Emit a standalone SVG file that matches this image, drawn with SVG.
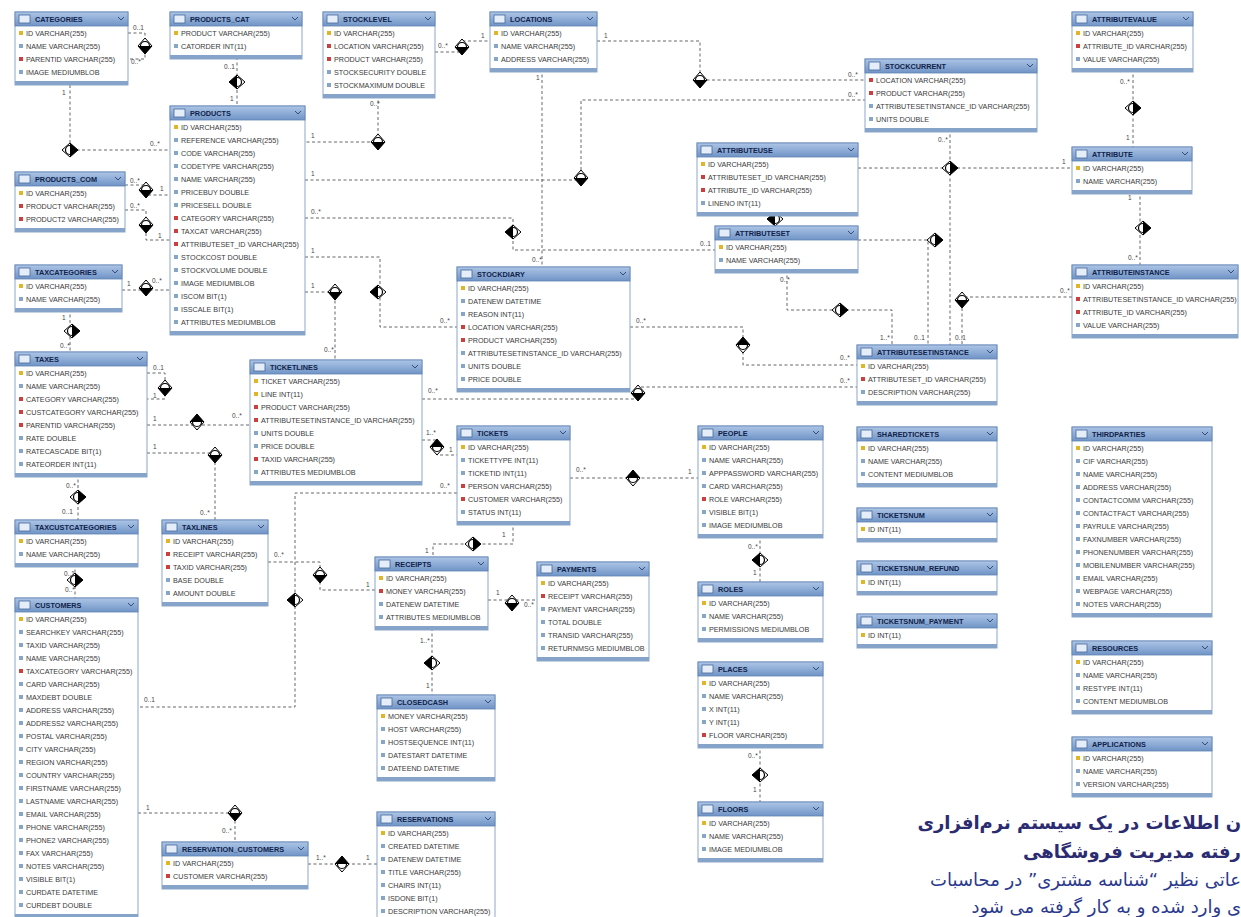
<svg xmlns="http://www.w3.org/2000/svg" xmlns:xlink="http://www.w3.org/1999/xlink" width="1241" height="917" viewBox="0 0 1241 917">
<defs>
<linearGradient id="hg" x1="0" y1="0" x2="0" y2="1"><stop offset="0" stop-color="#adc5e6"/><stop offset="1" stop-color="#7094c6"/></linearGradient>
<rect id="pk" x="4" width="4" height="4" fill="#e2b526"/>
<rect id="fk" x="4" width="4" height="4" fill="#cc3f3f"/>
<rect id="cl" x="4" width="4" height="4" fill="#86a6c8"/>
<g id="rel"><path d="M0,-8 L7,0 L0,8 L-7,0Z" fill="#fff" stroke="#000" stroke-width="1"/><path d="M-7,0 L7,0 L0,8Z" fill="#000"/><circle r="4.5" fill="none" stroke="#000" stroke-width="1.2"/></g>
</defs>
<style>
.bd{fill:#fff;stroke:#8ea7c9;stroke-width:1}
.hd{fill:url(#hg);stroke:#5f82b3;stroke-width:0.8}
.st{fill:#86a3c9}
.ic{fill:#e4edf8;stroke:#46699c;stroke-width:0.8}
.cv{fill:none;stroke:#2a4070;stroke-width:0.9}
.h{font-family:"Liberation Sans",Arial,sans-serif;font-size:7.3px;font-weight:bold;fill:#10234a}
.r{font-family:"Liberation Sans",Arial,sans-serif;font-size:7.2px;fill:#3a3a3a}
.c{fill:none;stroke:#555;stroke-width:0.9;stroke-dasharray:3 2.5}
.l{font-family:"Liberation Sans",Arial,sans-serif;font-size:6.5px;fill:#444}
.fa1{font-family:"DejaVu Sans",sans-serif;font-size:18px;font-weight:bold;fill:#2b2b72}
.fa2{font-family:"DejaVu Sans",sans-serif;font-size:18px;fill:#2b3a8e}
</style>
<rect width="1241" height="917" fill="#fff"/>

<g id="connectors">
<path class="c" d="M128,33 H145 V59 H128"/>
<path class="c" d="M70,85 V150 H170"/>
<path class="c" d="M237,57 V106"/>
<path class="c" d="M435,52 H462 V41 H490"/>
<path class="c" d="M378,95 V142 H305"/>
<path class="c" d="M597,41 H700 V80 H865"/>
<path class="c" d="M305,180 H581 V100 H865"/>
<path class="c" d="M542,69 V267"/>
<path class="c" d="M305,218 H513 V250 H715"/>
<path class="c" d="M305,257 H380 V327 H457"/>
<path class="c" d="M305,292 H335 V360"/>
<path class="c" d="M125,185 H146 V195 H170"/>
<path class="c" d="M125,210 H146 V240 H170"/>
<path class="c" d="M122,290 H170"/>
<path class="c" d="M70,309 V352"/>
<path class="c" d="M147,373 H165 V399 H147"/>
<path class="c" d="M147,425 H250"/>
<path class="c" d="M147,453 H215 V520"/>
<path class="c" d="M78,474 V520"/>
<path class="c" d="M75,564 V598"/>
<path class="c" d="M422,440 H437 V455 H457"/>
<path class="c" d="M422,399 H638 V387 H857"/>
<path class="c" d="M630,327 H743 V365 H857"/>
<path class="c" d="M570,478 H698"/>
<path class="c" d="M513,522 V544 H433 V557"/>
<path class="c" d="M457,493 H295 V707 H138"/>
<path class="c" d="M268,562 H320 V590 H375"/>
<path class="c" d="M488,600 H537"/>
<path class="c" d="M432,628 V695"/>
<path class="c" d="M138,813 H235 V842"/>
<path class="c" d="M308,864 H377"/>
<path class="c" d="M760,535 V582"/>
<path class="c" d="M760,745 V802"/>
<path class="c" d="M1133,69 V147"/>
<path class="c" d="M858,168 H1072"/>
<path class="c" d="M1140,191 V265"/>
<path class="c" d="M775,213 V226"/>
<path class="c" d="M950,129 V345"/>
<path class="c" d="M858,240 H928 V345"/>
<path class="c" d="M787,270 V310 H892 V345"/>
<path class="c" d="M1072,297 H962 V345"/>
<use href="#rel" transform="translate(145,46)"/>
<use href="#rel" transform="translate(70,150) rotate(-90)"/>
<use href="#rel" transform="translate(237,82) rotate(90)"/>
<use href="#rel" transform="translate(462,47)"/>
<use href="#rel" transform="translate(378,142)"/>
<use href="#rel" transform="translate(700,80)"/>
<use href="#rel" transform="translate(581,178)"/>
<use href="#rel" transform="translate(513,232) rotate(90)"/>
<use href="#rel" transform="translate(378,292) rotate(90)"/>
<use href="#rel" transform="translate(335,292)"/>
<use href="#rel" transform="translate(146,190)"/>
<use href="#rel" transform="translate(146,225)"/>
<use href="#rel" transform="translate(146,288)"/>
<use href="#rel" transform="translate(72,331) rotate(-90)"/>
<use href="#rel" transform="translate(165,388)"/>
<use href="#rel" transform="translate(197,422) rotate(180)"/>
<use href="#rel" transform="translate(215,455)"/>
<use href="#rel" transform="translate(78,497) rotate(-90)"/>
<use href="#rel" transform="translate(75,580) rotate(-90)"/>
<use href="#rel" transform="translate(437,447) rotate(180)"/>
<use href="#rel" transform="translate(638,393)"/>
<use href="#rel" transform="translate(743,345) rotate(180)"/>
<use href="#rel" transform="translate(633,478) rotate(180)"/>
<use href="#rel" transform="translate(473,544) rotate(-90)"/>
<use href="#rel" transform="translate(295,600) rotate(90)"/>
<use href="#rel" transform="translate(320,575)"/>
<use href="#rel" transform="translate(512,603)"/>
<use href="#rel" transform="translate(432,663) rotate(90)"/>
<use href="#rel" transform="translate(235,813)"/>
<use href="#rel" transform="translate(342,864) rotate(180)"/>
<use href="#rel" transform="translate(760,560) rotate(90)"/>
<use href="#rel" transform="translate(760,775) rotate(90)"/>
<use href="#rel" transform="translate(1133,108) rotate(-90)"/>
<use href="#rel" transform="translate(950,168) rotate(-90)"/>
<use href="#rel" transform="translate(1143,228) rotate(-90)"/>
<use href="#rel" transform="translate(775,219) rotate(90)"/>
<use href="#rel" transform="translate(935,240) rotate(-90)"/>
<use href="#rel" transform="translate(840,310) rotate(-90)"/>
<use href="#rel" transform="translate(962,300)"/>
<text class="l" x="133" y="30">0..1</text><text class="l" x="131" y="64">0..*</text>
<text class="l" x="62" y="95">1</text><text class="l" x="150" y="146">0..*</text>
<text class="l" x="224" y="69">0..1</text><text class="l" x="230" y="101">1</text>
<text class="l" x="438" y="48">0..*</text><text class="l" x="481" y="38">1</text>
<text class="l" x="370" y="106">0..*</text><text class="l" x="311" y="138">1</text>
<text class="l" x="604" y="38">1</text><text class="l" x="848" y="77">0..*</text>
<text class="l" x="311" y="176">1</text><text class="l" x="848" y="97">0..*</text>
<text class="l" x="536" y="80">1</text><text class="l" x="532" y="262">0..*</text>
<text class="l" x="311" y="214">0..*</text><text class="l" x="700" y="246">0..1</text>
<text class="l" x="311" y="253">1</text><text class="l" x="440" y="323">0..*</text>
<text class="l" x="311" y="288">1</text><text class="l" x="324" y="352">0..*</text>
<text class="l" x="130" y="183">0..*</text><text class="l" x="160" y="191">1</text>
<text class="l" x="130" y="208">0..*</text><text class="l" x="158" y="238">1</text>
<text class="l" x="127" y="286">1</text><text class="l" x="152" y="283">0..*</text>
<text class="l" x="62" y="320">1</text><text class="l" x="60" y="348">0..*</text>
<text class="l" x="153" y="370">0..1</text><text class="l" x="153" y="398">1</text>
<text class="l" x="153" y="421">1</text><text class="l" x="232" y="418">0..*</text>
<text class="l" x="153" y="449">1</text><text class="l" x="200" y="515">0..*</text>
<text class="l" x="66" y="488">0..*</text><text class="l" x="62" y="514">0..1</text>
<text class="l" x="64" y="576">0..1</text><text class="l" x="65" y="592">0..*</text>
<text class="l" x="426" y="435">1..*</text><text class="l" x="449" y="452">1</text>
<text class="l" x="428" y="393">0..*</text><text class="l" x="840" y="383">0..*</text>
<text class="l" x="636" y="323">0..*</text><text class="l" x="840" y="360">0..*</text>
<text class="l" x="576" y="472">0..*</text><text class="l" x="688" y="474">1</text>
<text class="l" x="502" y="537">1</text><text class="l" x="425" y="553">1</text>
<text class="l" x="440" y="488">0..*</text><text class="l" x="144" y="702">0..1</text>
<text class="l" x="274" y="557">0..*</text><text class="l" x="366" y="587">1</text>
<text class="l" x="496" y="595">1</text><text class="l" x="524" y="607">0..*</text>
<text class="l" x="420" y="643">1..*</text><text class="l" x="426" y="688">1</text>
<text class="l" x="146" y="810">1</text><text class="l" x="222" y="833">0..*</text>
<text class="l" x="316" y="860">1..*</text><text class="l" x="366" y="860">1</text>
<text class="l" x="748" y="549">0..*</text><text class="l" x="753" y="575">1</text>
<text class="l" x="748" y="758">0..*</text><text class="l" x="753" y="792">1</text>
<text class="l" x="1120" y="84">0..*</text><text class="l" x="1126" y="140">1</text>
<text class="l" x="843" y="164">0..*</text><text class="l" x="1062" y="164">1</text>
<text class="l" x="1128" y="200">1</text><text class="l" x="1128" y="260">0..*</text>
<text class="l" x="938" y="142">0..*</text><text class="l" x="880" y="340">1..*</text>
<text class="l" x="914" y="340">0..1</text><text class="l" x="955" y="340">0..1</text>
<text class="l" x="780" y="282">0..*</text><text class="l" x="1060" y="293">0..*</text>
</g>

<g id="t-categories" transform="translate(15,12)">
<rect class="bd" width="113" height="73"/><rect class="st" y="69" width="113" height="4"/><rect class="hd" width="113" height="14"/><rect class="ic" x="4" y="3" width="11" height="8"/><path class="cv" d="M103,5 l3,3 l3,-3"/>
<text class="h" x="20" y="10">CATEGORIES</text>
<use href="#pk" y="19"/><use href="#cl" y="32"/><use href="#fk" y="45"/><use href="#cl" y="58"/>
<text class="r"><tspan x="11" y="23.5">ID VARCHAR(255)</tspan><tspan x="11" dy="13">NAME VARCHAR(255)</tspan><tspan x="11" dy="13">PARENTID VARCHAR(255)</tspan><tspan x="11" dy="13">IMAGE MEDIUMBLOB</tspan></text>
</g>

<g id="t-products_cat" transform="translate(170,12)">
<rect class="bd" width="132" height="47"/><rect class="st" y="43" width="132" height="4"/><rect class="hd" width="132" height="14"/><rect class="ic" x="4" y="3" width="11" height="8"/><path class="cv" d="M122,5 l3,3 l3,-3"/>
<text class="h" x="20" y="10">PRODUCTS_CAT</text>
<use href="#pk" y="19"/><use href="#cl" y="32"/>
<text class="r"><tspan x="11" y="23.5">PRODUCT VARCHAR(255)</tspan><tspan x="11" dy="13">CATORDER INT(11)</tspan></text>
</g>

<g id="t-stocklevel" transform="translate(323,12)">
<rect class="bd" width="112" height="86"/><rect class="st" y="82" width="112" height="4"/><rect class="hd" width="112" height="14"/><rect class="ic" x="4" y="3" width="11" height="8"/><path class="cv" d="M102,5 l3,3 l3,-3"/>
<text class="h" x="20" y="10">STOCKLEVEL</text>
<use href="#pk" y="19"/><use href="#fk" y="32"/><use href="#fk" y="45"/><use href="#cl" y="58"/><use href="#cl" y="71"/>
<text class="r"><tspan x="11" y="23.5">ID VARCHAR(255)</tspan><tspan x="11" dy="13">LOCATION VARCHAR(255)</tspan><tspan x="11" dy="13">PRODUCT VARCHAR(255)</tspan><tspan x="11" dy="13">STOCKSECURITY DOUBLE</tspan><tspan x="11" dy="13">STOCKMAXIMUM DOUBLE</tspan></text>
</g>

<g id="t-locations" transform="translate(490,12)">
<rect class="bd" width="107" height="60"/><rect class="st" y="56" width="107" height="4"/><rect class="hd" width="107" height="14"/><rect class="ic" x="4" y="3" width="11" height="8"/><path class="cv" d="M97,5 l3,3 l3,-3"/>
<text class="h" x="20" y="10">LOCATIONS</text>
<use href="#pk" y="19"/><use href="#cl" y="32"/><use href="#cl" y="45"/>
<text class="r"><tspan x="11" y="23.5">ID VARCHAR(255)</tspan><tspan x="11" dy="13">NAME VARCHAR(255)</tspan><tspan x="11" dy="13">ADDRESS VARCHAR(255)</tspan></text>
</g>

<g id="t-attributevalue" transform="translate(1072,12)">
<rect class="bd" width="121" height="60"/><rect class="st" y="56" width="121" height="4"/><rect class="hd" width="121" height="14"/><rect class="ic" x="4" y="3" width="11" height="8"/><path class="cv" d="M111,5 l3,3 l3,-3"/>
<text class="h" x="20" y="10">ATTRIBUTEVALUE</text>
<use href="#pk" y="19"/><use href="#fk" y="32"/><use href="#cl" y="45"/>
<text class="r"><tspan x="11" y="23.5">ID VARCHAR(255)</tspan><tspan x="11" dy="13">ATTRIBUTE_ID VARCHAR(255)</tspan><tspan x="11" dy="13">VALUE VARCHAR(255)</tspan></text>
</g>

<g id="t-stockcurrent" transform="translate(865,59)">
<rect class="bd" width="172" height="73"/><rect class="st" y="69" width="172" height="4"/><rect class="hd" width="172" height="14"/><rect class="ic" x="4" y="3" width="11" height="8"/><path class="cv" d="M162,5 l3,3 l3,-3"/>
<text class="h" x="20" y="10">STOCKCURRENT</text>
<use href="#fk" y="19"/><use href="#fk" y="32"/><use href="#cl" y="45"/><use href="#cl" y="58"/>
<text class="r"><tspan x="11" y="23.5">LOCATION VARCHAR(255)</tspan><tspan x="11" dy="13">PRODUCT VARCHAR(255)</tspan><tspan x="11" dy="13">ATTRIBUTESETINSTANCE_ID VARCHAR(255)</tspan><tspan x="11" dy="13">UNITS DOUBLE</tspan></text>
</g>

<g id="t-products" transform="translate(170,106)">
<rect class="bd" width="135" height="229"/><rect class="st" y="225" width="135" height="4"/><rect class="hd" width="135" height="14"/><rect class="ic" x="4" y="3" width="11" height="8"/><path class="cv" d="M125,5 l3,3 l3,-3"/>
<text class="h" x="20" y="10">PRODUCTS</text>
<use href="#pk" y="19"/><use href="#cl" y="32"/><use href="#cl" y="45"/><use href="#cl" y="58"/><use href="#cl" y="71"/><use href="#cl" y="84"/><use href="#cl" y="97"/><use href="#fk" y="110"/><use href="#fk" y="123"/><use href="#fk" y="136"/><use href="#cl" y="149"/><use href="#cl" y="162"/><use href="#cl" y="175"/><use href="#cl" y="188"/><use href="#cl" y="201"/><use href="#cl" y="214"/>
<text class="r"><tspan x="11" y="23.5">ID VARCHAR(255)</tspan><tspan x="11" dy="13">REFERENCE VARCHAR(255)</tspan><tspan x="11" dy="13">CODE VARCHAR(255)</tspan><tspan x="11" dy="13">CODETYPE VARCHAR(255)</tspan><tspan x="11" dy="13">NAME VARCHAR(255)</tspan><tspan x="11" dy="13">PRICEBUY DOUBLE</tspan><tspan x="11" dy="13">PRICESELL DOUBLE</tspan><tspan x="11" dy="13">CATEGORY VARCHAR(255)</tspan><tspan x="11" dy="13">TAXCAT VARCHAR(255)</tspan><tspan x="11" dy="13">ATTRIBUTESET_ID VARCHAR(255)</tspan><tspan x="11" dy="13">STOCKCOST DOUBLE</tspan><tspan x="11" dy="13">STOCKVOLUME DOUBLE</tspan><tspan x="11" dy="13">IMAGE MEDIUMBLOB</tspan><tspan x="11" dy="13">ISCOM BIT(1)</tspan><tspan x="11" dy="13">ISSCALE BIT(1)</tspan><tspan x="11" dy="13">ATTRIBUTES MEDIUMBLOB</tspan></text>
</g>

<g id="t-products_com" transform="translate(15,172)">
<rect class="bd" width="110" height="60"/><rect class="st" y="56" width="110" height="4"/><rect class="hd" width="110" height="14"/><rect class="ic" x="4" y="3" width="11" height="8"/><path class="cv" d="M100,5 l3,3 l3,-3"/>
<text class="h" x="20" y="10">PRODUCTS_COM</text>
<use href="#pk" y="19"/><use href="#fk" y="32"/><use href="#fk" y="45"/>
<text class="r"><tspan x="11" y="23.5">ID VARCHAR(255)</tspan><tspan x="11" dy="13">PRODUCT VARCHAR(255)</tspan><tspan x="11" dy="13">PRODUCT2 VARCHAR(255)</tspan></text>
</g>

<g id="t-attributeuse" transform="translate(697,143)">
<rect class="bd" width="161" height="73"/><rect class="st" y="69" width="161" height="4"/><rect class="hd" width="161" height="14"/><rect class="ic" x="4" y="3" width="11" height="8"/><path class="cv" d="M151,5 l3,3 l3,-3"/>
<text class="h" x="20" y="10">ATTRIBUTEUSE</text>
<use href="#pk" y="19"/><use href="#fk" y="32"/><use href="#fk" y="45"/><use href="#cl" y="58"/>
<text class="r"><tspan x="11" y="23.5">ID VARCHAR(255)</tspan><tspan x="11" dy="13">ATTRIBUTESET_ID VARCHAR(255)</tspan><tspan x="11" dy="13">ATTRIBUTE_ID VARCHAR(255)</tspan><tspan x="11" dy="13">LINENO INT(11)</tspan></text>
</g>

<g id="t-attribute" transform="translate(1072,147)">
<rect class="bd" width="120" height="47"/><rect class="st" y="43" width="120" height="4"/><rect class="hd" width="120" height="14"/><rect class="ic" x="4" y="3" width="11" height="8"/><path class="cv" d="M110,5 l3,3 l3,-3"/>
<text class="h" x="20" y="10">ATTRIBUTE</text>
<use href="#pk" y="19"/><use href="#cl" y="32"/>
<text class="r"><tspan x="11" y="23.5">ID VARCHAR(255)</tspan><tspan x="11" dy="13">NAME VARCHAR(255)</tspan></text>
</g>

<g id="t-attributeset" transform="translate(715,226)">
<rect class="bd" width="143" height="47"/><rect class="st" y="43" width="143" height="4"/><rect class="hd" width="143" height="14"/><rect class="ic" x="4" y="3" width="11" height="8"/><path class="cv" d="M133,5 l3,3 l3,-3"/>
<text class="h" x="20" y="10">ATTRIBUTESET</text>
<use href="#pk" y="19"/><use href="#cl" y="32"/>
<text class="r"><tspan x="11" y="23.5">ID VARCHAR(255)</tspan><tspan x="11" dy="13">NAME VARCHAR(255)</tspan></text>
</g>

<g id="t-taxcategories" transform="translate(15,265)">
<rect class="bd" width="107" height="47"/><rect class="st" y="43" width="107" height="4"/><rect class="hd" width="107" height="14"/><rect class="ic" x="4" y="3" width="11" height="8"/><path class="cv" d="M97,5 l3,3 l3,-3"/>
<text class="h" x="20" y="10">TAXCATEGORIES</text>
<use href="#pk" y="19"/><use href="#cl" y="32"/>
<text class="r"><tspan x="11" y="23.5">ID VARCHAR(255)</tspan><tspan x="11" dy="13">NAME VARCHAR(255)</tspan></text>
</g>

<g id="t-stockdiary" transform="translate(457,267)">
<rect class="bd" width="173" height="125"/><rect class="st" y="121" width="173" height="4"/><rect class="hd" width="173" height="14"/><rect class="ic" x="4" y="3" width="11" height="8"/><path class="cv" d="M163,5 l3,3 l3,-3"/>
<text class="h" x="20" y="10">STOCKDIARY</text>
<use href="#pk" y="19"/><use href="#cl" y="32"/><use href="#cl" y="45"/><use href="#fk" y="58"/><use href="#fk" y="71"/><use href="#cl" y="84"/><use href="#cl" y="97"/><use href="#cl" y="110"/>
<text class="r"><tspan x="11" y="23.5">ID VARCHAR(255)</tspan><tspan x="11" dy="13">DATENEW DATETIME</tspan><tspan x="11" dy="13">REASON INT(11)</tspan><tspan x="11" dy="13">LOCATION VARCHAR(255)</tspan><tspan x="11" dy="13">PRODUCT VARCHAR(255)</tspan><tspan x="11" dy="13">ATTRIBUTESETINSTANCE_ID VARCHAR(255)</tspan><tspan x="11" dy="13">UNITS DOUBLE</tspan><tspan x="11" dy="13">PRICE DOUBLE</tspan></text>
</g>

<g id="t-attributeinstance" transform="translate(1072,265)">
<rect class="bd" width="166" height="73"/><rect class="st" y="69" width="166" height="4"/><rect class="hd" width="166" height="14"/><rect class="ic" x="4" y="3" width="11" height="8"/><path class="cv" d="M156,5 l3,3 l3,-3"/>
<text class="h" x="20" y="10">ATTRIBUTEINSTANCE</text>
<use href="#pk" y="19"/><use href="#fk" y="32"/><use href="#fk" y="45"/><use href="#cl" y="58"/>
<text class="r"><tspan x="11" y="23.5">ID VARCHAR(255)</tspan><tspan x="11" dy="13">ATTRIBUTESETINSTANCE_ID VARCHAR(255)</tspan><tspan x="11" dy="13">ATTRIBUTE_ID VARCHAR(255)</tspan><tspan x="11" dy="13">VALUE VARCHAR(255)</tspan></text>
</g>

<g id="t-attributesetinstance" transform="translate(857,345)">
<rect class="bd" width="140" height="60"/><rect class="st" y="56" width="140" height="4"/><rect class="hd" width="140" height="14"/><rect class="ic" x="4" y="3" width="11" height="8"/><path class="cv" d="M130,5 l3,3 l3,-3"/>
<text class="h" x="20" y="10">ATTRIBUTESETINSTANCE</text>
<use href="#pk" y="19"/><use href="#fk" y="32"/><use href="#cl" y="45"/>
<text class="r"><tspan x="11" y="23.5">ID VARCHAR(255)</tspan><tspan x="11" dy="13">ATTRIBUTESET_ID VARCHAR(255)</tspan><tspan x="11" dy="13">DESCRIPTION VARCHAR(255)</tspan></text>
</g>

<g id="t-taxes" transform="translate(15,352)">
<rect class="bd" width="132" height="125"/><rect class="st" y="121" width="132" height="4"/><rect class="hd" width="132" height="14"/><rect class="ic" x="4" y="3" width="11" height="8"/><path class="cv" d="M122,5 l3,3 l3,-3"/>
<text class="h" x="20" y="10">TAXES</text>
<use href="#pk" y="19"/><use href="#cl" y="32"/><use href="#fk" y="45"/><use href="#fk" y="58"/><use href="#fk" y="71"/><use href="#cl" y="84"/><use href="#cl" y="97"/><use href="#cl" y="110"/>
<text class="r"><tspan x="11" y="23.5">ID VARCHAR(255)</tspan><tspan x="11" dy="13">NAME VARCHAR(255)</tspan><tspan x="11" dy="13">CATEGORY VARCHAR(255)</tspan><tspan x="11" dy="13">CUSTCATEGORY VARCHAR(255)</tspan><tspan x="11" dy="13">PARENTID VARCHAR(255)</tspan><tspan x="11" dy="13">RATE DOUBLE</tspan><tspan x="11" dy="13">RATECASCADE BIT(1)</tspan><tspan x="11" dy="13">RATEORDER INT(11)</tspan></text>
</g>

<g id="t-ticketlines" transform="translate(250,360)">
<rect class="bd" width="172" height="125"/><rect class="st" y="121" width="172" height="4"/><rect class="hd" width="172" height="14"/><rect class="ic" x="4" y="3" width="11" height="8"/><path class="cv" d="M162,5 l3,3 l3,-3"/>
<text class="h" x="20" y="10">TICKETLINES</text>
<use href="#pk" y="19"/><use href="#pk" y="32"/><use href="#fk" y="45"/><use href="#fk" y="58"/><use href="#cl" y="71"/><use href="#cl" y="84"/><use href="#fk" y="97"/><use href="#cl" y="110"/>
<text class="r"><tspan x="11" y="23.5">TICKET VARCHAR(255)</tspan><tspan x="11" dy="13">LINE INT(11)</tspan><tspan x="11" dy="13">PRODUCT VARCHAR(255)</tspan><tspan x="11" dy="13">ATTRIBUTESETINSTANCE_ID VARCHAR(255)</tspan><tspan x="11" dy="13">UNITS DOUBLE</tspan><tspan x="11" dy="13">PRICE DOUBLE</tspan><tspan x="11" dy="13">TAXID VARCHAR(255)</tspan><tspan x="11" dy="13">ATTRIBUTES MEDIUMBLOB</tspan></text>
</g>

<g id="t-tickets" transform="translate(457,426)">
<rect class="bd" width="113" height="99"/><rect class="st" y="95" width="113" height="4"/><rect class="hd" width="113" height="14"/><rect class="ic" x="4" y="3" width="11" height="8"/><path class="cv" d="M103,5 l3,3 l3,-3"/>
<text class="h" x="20" y="10">TICKETS</text>
<use href="#pk" y="19"/><use href="#cl" y="32"/><use href="#cl" y="45"/><use href="#fk" y="58"/><use href="#fk" y="71"/><use href="#cl" y="84"/>
<text class="r"><tspan x="11" y="23.5">ID VARCHAR(255)</tspan><tspan x="11" dy="13">TICKETTYPE INT(11)</tspan><tspan x="11" dy="13">TICKETID INT(11)</tspan><tspan x="11" dy="13">PERSON VARCHAR(255)</tspan><tspan x="11" dy="13">CUSTOMER VARCHAR(255)</tspan><tspan x="11" dy="13">STATUS INT(11)</tspan></text>
</g>

<g id="t-people" transform="translate(698,426)">
<rect class="bd" width="125" height="112"/><rect class="st" y="108" width="125" height="4"/><rect class="hd" width="125" height="14"/><rect class="ic" x="4" y="3" width="11" height="8"/><path class="cv" d="M115,5 l3,3 l3,-3"/>
<text class="h" x="20" y="10">PEOPLE</text>
<use href="#pk" y="19"/><use href="#cl" y="32"/><use href="#cl" y="45"/><use href="#cl" y="58"/><use href="#fk" y="71"/><use href="#cl" y="84"/><use href="#cl" y="97"/>
<text class="r"><tspan x="11" y="23.5">ID VARCHAR(255)</tspan><tspan x="11" dy="13">NAME VARCHAR(255)</tspan><tspan x="11" dy="13">APPPASSWORD VARCHAR(255)</tspan><tspan x="11" dy="13">CARD VARCHAR(255)</tspan><tspan x="11" dy="13">ROLE VARCHAR(255)</tspan><tspan x="11" dy="13">VISIBLE BIT(1)</tspan><tspan x="11" dy="13">IMAGE MEDIUMBLOB</tspan></text>
</g>

<g id="t-sharedtickets" transform="translate(857,427)">
<rect class="bd" width="140" height="60"/><rect class="st" y="56" width="140" height="4"/><rect class="hd" width="140" height="14"/><rect class="ic" x="4" y="3" width="11" height="8"/><path class="cv" d="M130,5 l3,3 l3,-3"/>
<text class="h" x="20" y="10">SHAREDTICKETS</text>
<use href="#pk" y="19"/><use href="#cl" y="32"/><use href="#cl" y="45"/>
<text class="r"><tspan x="11" y="23.5">ID VARCHAR(255)</tspan><tspan x="11" dy="13">NAME VARCHAR(255)</tspan><tspan x="11" dy="13">CONTENT MEDIUMBLOB</tspan></text>
</g>

<g id="t-thirdparties" transform="translate(1072,427)">
<rect class="bd" width="140" height="190"/><rect class="st" y="186" width="140" height="4"/><rect class="hd" width="140" height="14"/><rect class="ic" x="4" y="3" width="11" height="8"/><path class="cv" d="M130,5 l3,3 l3,-3"/>
<text class="h" x="20" y="10">THIRDPARTIES</text>
<use href="#pk" y="19"/><use href="#cl" y="32"/><use href="#cl" y="45"/><use href="#cl" y="58"/><use href="#cl" y="71"/><use href="#cl" y="84"/><use href="#cl" y="97"/><use href="#cl" y="110"/><use href="#cl" y="123"/><use href="#cl" y="136"/><use href="#cl" y="149"/><use href="#cl" y="162"/><use href="#cl" y="175"/>
<text class="r"><tspan x="11" y="23.5">ID VARCHAR(255)</tspan><tspan x="11" dy="13">CIF VARCHAR(255)</tspan><tspan x="11" dy="13">NAME VARCHAR(255)</tspan><tspan x="11" dy="13">ADDRESS VARCHAR(255)</tspan><tspan x="11" dy="13">CONTACTCOMM VARCHAR(255)</tspan><tspan x="11" dy="13">CONTACTFACT VARCHAR(255)</tspan><tspan x="11" dy="13">PAYRULE VARCHAR(255)</tspan><tspan x="11" dy="13">FAXNUMBER VARCHAR(255)</tspan><tspan x="11" dy="13">PHONENUMBER VARCHAR(255)</tspan><tspan x="11" dy="13">MOBILENUMBER VARCHAR(255)</tspan><tspan x="11" dy="13">EMAIL VARCHAR(255)</tspan><tspan x="11" dy="13">WEBPAGE VARCHAR(255)</tspan><tspan x="11" dy="13">NOTES VARCHAR(255)</tspan></text>
</g>

<g id="t-ticketsnum" transform="translate(857,508)">
<rect class="bd" width="140" height="34"/><rect class="st" y="30" width="140" height="4"/><rect class="hd" width="140" height="14"/><rect class="ic" x="4" y="3" width="11" height="8"/><path class="cv" d="M130,5 l3,3 l3,-3"/>
<text class="h" x="20" y="10">TICKETSNUM</text>
<use href="#pk" y="19"/>
<text class="r" x="11" y="23.5">ID INT(11)</text>
</g>

<g id="t-ticketsnum_refund" transform="translate(857,561)">
<rect class="bd" width="140" height="34"/><rect class="st" y="30" width="140" height="4"/><rect class="hd" width="140" height="14"/><rect class="ic" x="4" y="3" width="11" height="8"/><path class="cv" d="M130,5 l3,3 l3,-3"/>
<text class="h" x="20" y="10">TICKETSNUM_REFUND</text>
<use href="#pk" y="19"/>
<text class="r" x="11" y="23.5">ID INT(11)</text>
</g>

<g id="t-ticketsnum_payment" transform="translate(857,614)">
<rect class="bd" width="140" height="34"/><rect class="st" y="30" width="140" height="4"/><rect class="hd" width="140" height="14"/><rect class="ic" x="4" y="3" width="11" height="8"/><path class="cv" d="M130,5 l3,3 l3,-3"/>
<text class="h" x="20" y="10">TICKETSNUM_PAYMENT</text>
<use href="#pk" y="19"/>
<text class="r" x="11" y="23.5">ID INT(11)</text>
</g>

<g id="t-taxcustcategories" transform="translate(15,520)">
<rect class="bd" width="123" height="47"/><rect class="st" y="43" width="123" height="4"/><rect class="hd" width="123" height="14"/><rect class="ic" x="4" y="3" width="11" height="8"/><path class="cv" d="M113,5 l3,3 l3,-3"/>
<text class="h" x="20" y="10">TAXCUSTCATEGORIES</text>
<use href="#pk" y="19"/><use href="#cl" y="32"/>
<text class="r"><tspan x="11" y="23.5">ID VARCHAR(255)</tspan><tspan x="11" dy="13">NAME VARCHAR(255)</tspan></text>
</g>

<g id="t-taxlines" transform="translate(162,520)">
<rect class="bd" width="106" height="86"/><rect class="st" y="82" width="106" height="4"/><rect class="hd" width="106" height="14"/><rect class="ic" x="4" y="3" width="11" height="8"/><path class="cv" d="M96,5 l3,3 l3,-3"/>
<text class="h" x="20" y="10">TAXLINES</text>
<use href="#pk" y="19"/><use href="#fk" y="32"/><use href="#fk" y="45"/><use href="#cl" y="58"/><use href="#cl" y="71"/>
<text class="r"><tspan x="11" y="23.5">ID VARCHAR(255)</tspan><tspan x="11" dy="13">RECEIPT VARCHAR(255)</tspan><tspan x="11" dy="13">TAXID VARCHAR(255)</tspan><tspan x="11" dy="13">BASE DOUBLE</tspan><tspan x="11" dy="13">AMOUNT DOUBLE</tspan></text>
</g>

<g id="t-receipts" transform="translate(375,557)">
<rect class="bd" width="113" height="73"/><rect class="st" y="69" width="113" height="4"/><rect class="hd" width="113" height="14"/><rect class="ic" x="4" y="3" width="11" height="8"/><path class="cv" d="M103,5 l3,3 l3,-3"/>
<text class="h" x="20" y="10">RECEIPTS</text>
<use href="#pk" y="19"/><use href="#fk" y="32"/><use href="#cl" y="45"/><use href="#cl" y="58"/>
<text class="r"><tspan x="11" y="23.5">ID VARCHAR(255)</tspan><tspan x="11" dy="13">MONEY VARCHAR(255)</tspan><tspan x="11" dy="13">DATENEW DATETIME</tspan><tspan x="11" dy="13">ATTRIBUTES MEDIUMBLOB</tspan></text>
</g>

<g id="t-payments" transform="translate(537,562)">
<rect class="bd" width="112" height="99"/><rect class="st" y="95" width="112" height="4"/><rect class="hd" width="112" height="14"/><rect class="ic" x="4" y="3" width="11" height="8"/><path class="cv" d="M102,5 l3,3 l3,-3"/>
<text class="h" x="20" y="10">PAYMENTS</text>
<use href="#pk" y="19"/><use href="#fk" y="32"/><use href="#cl" y="45"/><use href="#cl" y="58"/><use href="#cl" y="71"/><use href="#cl" y="84"/>
<text class="r"><tspan x="11" y="23.5">ID VARCHAR(255)</tspan><tspan x="11" dy="13">RECEIPT VARCHAR(255)</tspan><tspan x="11" dy="13">PAYMENT VARCHAR(255)</tspan><tspan x="11" dy="13">TOTAL DOUBLE</tspan><tspan x="11" dy="13">TRANSID VARCHAR(255)</tspan><tspan x="11" dy="13">RETURNMSG MEDIUMBLOB</tspan></text>
</g>

<g id="t-roles" transform="translate(698,582)">
<rect class="bd" width="125" height="60"/><rect class="st" y="56" width="125" height="4"/><rect class="hd" width="125" height="14"/><rect class="ic" x="4" y="3" width="11" height="8"/><path class="cv" d="M115,5 l3,3 l3,-3"/>
<text class="h" x="20" y="10">ROLES</text>
<use href="#pk" y="19"/><use href="#cl" y="32"/><use href="#cl" y="45"/>
<text class="r"><tspan x="11" y="23.5">ID VARCHAR(255)</tspan><tspan x="11" dy="13">NAME VARCHAR(255)</tspan><tspan x="11" dy="13">PERMISSIONS MEDIUMBLOB</tspan></text>
</g>

<g id="t-customers" transform="translate(15,598)">
<rect class="bd" width="123" height="320"/><rect class="st" y="316" width="123" height="4"/><rect class="hd" width="123" height="14"/><rect class="ic" x="4" y="3" width="11" height="8"/><path class="cv" d="M113,5 l3,3 l3,-3"/>
<text class="h" x="20" y="10">CUSTOMERS</text>
<use href="#pk" y="19"/><use href="#cl" y="32"/><use href="#cl" y="45"/><use href="#cl" y="58"/><use href="#fk" y="71"/><use href="#cl" y="84"/><use href="#cl" y="97"/><use href="#cl" y="110"/><use href="#cl" y="123"/><use href="#cl" y="136"/><use href="#cl" y="149"/><use href="#cl" y="162"/><use href="#cl" y="175"/><use href="#cl" y="188"/><use href="#cl" y="201"/><use href="#cl" y="214"/><use href="#cl" y="227"/><use href="#cl" y="240"/><use href="#cl" y="253"/><use href="#cl" y="266"/><use href="#cl" y="279"/><use href="#cl" y="292"/><use href="#cl" y="305"/>
<text class="r"><tspan x="11" y="23.5">ID VARCHAR(255)</tspan><tspan x="11" dy="13">SEARCHKEY VARCHAR(255)</tspan><tspan x="11" dy="13">TAXID VARCHAR(255)</tspan><tspan x="11" dy="13">NAME VARCHAR(255)</tspan><tspan x="11" dy="13">TAXCATEGORY VARCHAR(255)</tspan><tspan x="11" dy="13">CARD VARCHAR(255)</tspan><tspan x="11" dy="13">MAXDEBT DOUBLE</tspan><tspan x="11" dy="13">ADDRESS VARCHAR(255)</tspan><tspan x="11" dy="13">ADDRESS2 VARCHAR(255)</tspan><tspan x="11" dy="13">POSTAL VARCHAR(255)</tspan><tspan x="11" dy="13">CITY VARCHAR(255)</tspan><tspan x="11" dy="13">REGION VARCHAR(255)</tspan><tspan x="11" dy="13">COUNTRY VARCHAR(255)</tspan><tspan x="11" dy="13">FIRSTNAME VARCHAR(255)</tspan><tspan x="11" dy="13">LASTNAME VARCHAR(255)</tspan><tspan x="11" dy="13">EMAIL VARCHAR(255)</tspan><tspan x="11" dy="13">PHONE VARCHAR(255)</tspan><tspan x="11" dy="13">PHONE2 VARCHAR(255)</tspan><tspan x="11" dy="13">FAX VARCHAR(255)</tspan><tspan x="11" dy="13">NOTES VARCHAR(255)</tspan><tspan x="11" dy="13">VISIBLE BIT(1)</tspan><tspan x="11" dy="13">CURDATE DATETIME</tspan><tspan x="11" dy="13">CURDEBT DOUBLE</tspan></text>
</g>

<g id="t-resources" transform="translate(1072,641)">
<rect class="bd" width="140" height="73"/><rect class="st" y="69" width="140" height="4"/><rect class="hd" width="140" height="14"/><rect class="ic" x="4" y="3" width="11" height="8"/><path class="cv" d="M130,5 l3,3 l3,-3"/>
<text class="h" x="20" y="10">RESOURCES</text>
<use href="#pk" y="19"/><use href="#cl" y="32"/><use href="#cl" y="45"/><use href="#cl" y="58"/>
<text class="r"><tspan x="11" y="23.5">ID VARCHAR(255)</tspan><tspan x="11" dy="13">NAME VARCHAR(255)</tspan><tspan x="11" dy="13">RESTYPE INT(11)</tspan><tspan x="11" dy="13">CONTENT MEDIUMBLOB</tspan></text>
</g>

<g id="t-places" transform="translate(698,662)">
<rect class="bd" width="125" height="86"/><rect class="st" y="82" width="125" height="4"/><rect class="hd" width="125" height="14"/><rect class="ic" x="4" y="3" width="11" height="8"/><path class="cv" d="M115,5 l3,3 l3,-3"/>
<text class="h" x="20" y="10">PLACES</text>
<use href="#pk" y="19"/><use href="#cl" y="32"/><use href="#cl" y="45"/><use href="#cl" y="58"/><use href="#fk" y="71"/>
<text class="r"><tspan x="11" y="23.5">ID VARCHAR(255)</tspan><tspan x="11" dy="13">NAME VARCHAR(255)</tspan><tspan x="11" dy="13">X INT(11)</tspan><tspan x="11" dy="13">Y INT(11)</tspan><tspan x="11" dy="13">FLOOR VARCHAR(255)</tspan></text>
</g>

<g id="t-closedcash" transform="translate(377,695)">
<rect class="bd" width="118" height="86"/><rect class="st" y="82" width="118" height="4"/><rect class="hd" width="118" height="14"/><rect class="ic" x="4" y="3" width="11" height="8"/><path class="cv" d="M108,5 l3,3 l3,-3"/>
<text class="h" x="20" y="10">CLOSEDCASH</text>
<use href="#pk" y="19"/><use href="#cl" y="32"/><use href="#cl" y="45"/><use href="#cl" y="58"/><use href="#cl" y="71"/>
<text class="r"><tspan x="11" y="23.5">MONEY VARCHAR(255)</tspan><tspan x="11" dy="13">HOST VARCHAR(255)</tspan><tspan x="11" dy="13">HOSTSEQUENCE INT(11)</tspan><tspan x="11" dy="13">DATESTART DATETIME</tspan><tspan x="11" dy="13">DATEEND DATETIME</tspan></text>
</g>

<g id="t-applications" transform="translate(1072,737)">
<rect class="bd" width="140" height="60"/><rect class="st" y="56" width="140" height="4"/><rect class="hd" width="140" height="14"/><rect class="ic" x="4" y="3" width="11" height="8"/><path class="cv" d="M130,5 l3,3 l3,-3"/>
<text class="h" x="20" y="10">APPLICATIONS</text>
<use href="#pk" y="19"/><use href="#cl" y="32"/><use href="#cl" y="45"/>
<text class="r"><tspan x="11" y="23.5">ID VARCHAR(255)</tspan><tspan x="11" dy="13">NAME VARCHAR(255)</tspan><tspan x="11" dy="13">VERSION VARCHAR(255)</tspan></text>
</g>

<g id="t-floors" transform="translate(698,802)">
<rect class="bd" width="125" height="60"/><rect class="st" y="56" width="125" height="4"/><rect class="hd" width="125" height="14"/><rect class="ic" x="4" y="3" width="11" height="8"/><path class="cv" d="M115,5 l3,3 l3,-3"/>
<text class="h" x="20" y="10">FLOORS</text>
<use href="#pk" y="19"/><use href="#cl" y="32"/><use href="#cl" y="45"/>
<text class="r"><tspan x="11" y="23.5">ID VARCHAR(255)</tspan><tspan x="11" dy="13">NAME VARCHAR(255)</tspan><tspan x="11" dy="13">IMAGE MEDIUMBLOB</tspan></text>
</g>

<g id="t-reservations" transform="translate(377,812)">
<rect class="bd" width="118" height="112"/><rect class="hd" width="118" height="14"/><rect class="ic" x="4" y="3" width="11" height="8"/><path class="cv" d="M108,5 l3,3 l3,-3"/>
<text class="h" x="20" y="10">RESERVATIONS</text>
<use href="#pk" y="19"/><use href="#cl" y="32"/><use href="#cl" y="45"/><use href="#cl" y="58"/><use href="#cl" y="71"/><use href="#cl" y="84"/><use href="#cl" y="97"/>
<text class="r"><tspan x="11" y="23.5">ID VARCHAR(255)</tspan><tspan x="11" dy="13">CREATED DATETIME</tspan><tspan x="11" dy="13">DATENEW DATETIME</tspan><tspan x="11" dy="13">TITLE VARCHAR(255)</tspan><tspan x="11" dy="13">CHAIRS INT(11)</tspan><tspan x="11" dy="13">ISDONE BIT(1)</tspan><tspan x="11" dy="13">DESCRIPTION VARCHAR(255)</tspan></text>
</g>

<g id="t-reservation_customers" transform="translate(162,842)">
<rect class="bd" width="146" height="47"/><rect class="st" y="43" width="146" height="4"/><rect class="hd" width="146" height="14"/><rect class="ic" x="4" y="3" width="11" height="8"/><path class="cv" d="M136,5 l3,3 l3,-3"/>
<text class="h" x="20" y="10">RESERVATION_CUSTOMERS</text>
<use href="#pk" y="19"/><use href="#fk" y="32"/>
<text class="r"><tspan x="11" y="23.5">ID VARCHAR(255)</tspan><tspan x="11" dy="13">CUSTOMER VARCHAR(255)</tspan></text>
</g>

<g id="caption">
<text class="fa1" x="1241" y="829" direction="rtl" text-anchor="start">ن اطلاعات در یک سیستم نرم‌افزاری</text>
<text class="fa1" x="1241" y="858" direction="rtl" text-anchor="start">رفته مدیریت فروشگاهی</text>
<text class="fa2" x="1241" y="886" direction="rtl" text-anchor="start">عاتی نظیر “شناسه مشتری” در محاسبات</text>
<text class="fa2" x="1241" y="913" direction="rtl" text-anchor="start">ی وارد شده و به کار گرفته می شود</text>
</g>
</svg>
